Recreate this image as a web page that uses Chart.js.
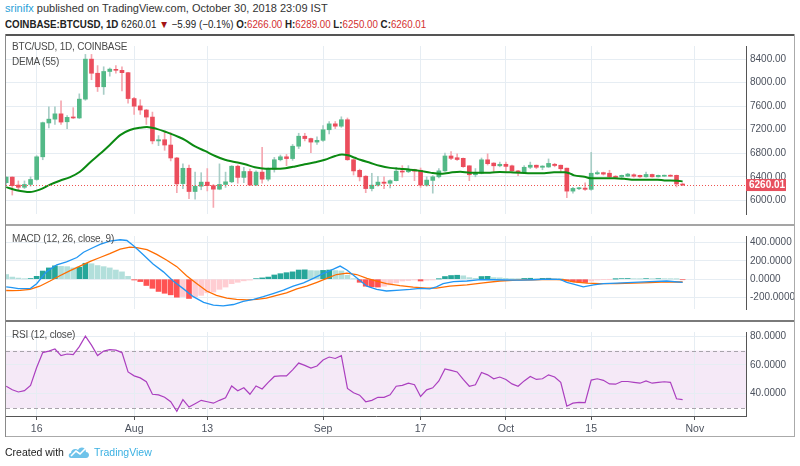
<!DOCTYPE html>
<html>
<head>
<meta charset="utf-8">
<script src="https://cdn.jsdelivr.net/npm/chart.js@4.4.0/dist/chart.umd.min.js"></script>
<style>
  body { margin: 0; width: 800px; height: 466px; background: #fff; position: relative; overflow: hidden;
         font-family: "Liberation Sans", Arial, sans-serif; color: #333; }
  .abs { position: absolute; white-space: nowrap; }
  canvas { position: absolute; left: 0; }
  .lbl { font-size: 10px; letter-spacing: -0.2px; color: #4a4a4a; line-height: 12px; }
  .red { color: #d32f2f; }
  .line { position: absolute; }
</style>
</head>
<body>

<div class="abs" style="left:5px;top:2px;font-size:11px;line-height:13px">
  <span style="color:#2a9fd8">srinifx</span> published on TradingView.com, October 30, 2018 23:09 IST
</div>
<div class="abs" style="left:5px;top:18px;font-size:10.5px;line-height:13px;color:#222;transform:scaleX(0.93);transform-origin:0 0">
  <b>COINBASE:BTCUSD, 1D</b> 6260.01 <span style="color:#a31515">&#9660;</span> &minus;5.99 (&minus;0.1%)
  <b>O:</b><span class="red">6266.00</span> <b>H:</b><span class="red">6289.00</span>
  <b>L:</b><span class="red">6250.00</span> <b>C:</b><span class="red">6260.01</span>
</div>

<canvas id="priceChart" width="800" height="188" style="top:36px"></canvas>
<canvas id="macdChart" width="800" height="93" style="top:226px"></canvas>
<canvas id="rsiChart" width="800" height="114" style="top:322px"></canvas>

<!-- frame and pane separators -->
<div class="line" style="left:5px;top:34px;width:790px;height:2px;background:#555"></div>
<div class="line" style="left:5px;top:224px;width:790px;height:2px;background:#a5a5a5"></div>
<div class="line" style="left:5px;top:320px;width:790px;height:2px;background:#7a7a7a"></div>
<div class="line" style="left:5px;top:436px;width:790px;height:1px;background:#aaa"></div>
<div class="line" style="left:5px;top:34px;width:1px;height:403px;background:#8a8a8a"></div>
<div class="line" style="left:794px;top:34px;width:1px;height:403px;background:#aaa"></div>

<div class="abs lbl" style="left:12px;top:41px">BTC/USD, 1D, COINBASE</div>
<div class="abs lbl" style="left:12px;top:56px">DEMA (55)</div>
<div class="abs lbl" style="left:12px;top:233px">MACD (12, 26, close, 9)</div>
<div class="abs lbl" style="left:12px;top:329px">RSI (12, close)</div>

<div class="abs" style="left:5px;top:446px;font-size:10.5px;line-height:13px;color:#222">Created with</div>
<svg class="abs" style="left:68px;top:444px" width="22" height="16" viewBox="0 0 22 16">
  <path d="M3 14 C0 14 0 9 3 9 C3 5 8 4 10 6 C12 2 18 3 18 8 C22 8 22 14 18 14 Z" fill="#6fc3ea"/>
  <polyline points="3,12 8,7 12,10 17,5" fill="none" stroke="#fff" stroke-width="1.6"/>
</svg>
<div class="abs" style="left:94px;top:446px;font-size:10.5px;line-height:13px;color:#3ab0e2">TradingView</div>

<script>
// Candles, Jul 11 - Oct 30 2018 (index 0 = Jul 11)
const openP = [
  6300, 6395, 6260, 6222, 6270, 6355, 6740, 7315, 7380, 7470,
  7335, 7410, 7400, 7720, 8400, 8160, 7930, 8190, 8225, 8210,
  8170, 7730, 7605, 7535, 7415, 7010, 7030, 6940, 6720, 6285,
  6545, 6150, 6240, 6310, 6250, 6190, 6270, 6315, 6580, 6390,
  6490, 6260, 6480, 6360, 6530, 6690, 6740, 6710, 6920, 7090,
  7050, 6990, 7020, 7200, 7300, 7260, 7370, 6690, 6510, 6410,
  6200, 6258, 6310, 6290, 6334, 6496, 6486, 6521, 6511, 6258,
  6339, 6400, 6501, 6754, 6724, 6714, 6587, 6435, 6461, 6689,
  6633, 6587, 6613, 6587, 6501, 6471, 6562, 6597, 6562, 6567,
  6613, 6597, 6547, 6157, 6197, 6208, 6187, 6450, 6471, 6461,
  6410, 6400, 6410, 6435, 6425, 6400, 6440, 6400, 6410, 6425,
  6425, 6266
]
const highP = [
  6400, 6400, 6330, 6330, 6400, 6760, 7330, 7590, 7590, 7690,
  7440, 7575, 7810, 8480, 8480, 8290, 8270, 8250, 8290, 8270,
  8175, 7750, 7710, 7545, 7500, 7100, 7160, 7150, 6730, 6620,
  6600, 6480, 6470, 6540, 6270, 6620, 6480, 6590, 6600, 6560,
  6530, 6500, 6900, 6550, 6730, 6770, 6780, 6950, 7140, 7140,
  7060, 7080, 7270, 7340, 7340, 7420, 7400, 6700, 6530, 6420,
  6460, 6410, 6400, 6350, 6560, 6590, 6590, 6530, 6550, 6400,
  6420, 6540, 6805, 6830, 6790, 6720, 6590, 6540, 6720, 6790,
  6640, 6650, 6650, 6600, 6510, 6590, 6650, 6600, 6590, 6704,
  6630, 6600, 6550, 6220, 6220, 6299, 6815, 6501, 6480, 6511,
  6420, 6430, 6460, 6450, 6430, 6480, 6445, 6430, 6430, 6435,
  6430, 6289
]
const lowP = [
  6270, 6090, 6160, 6200, 6240, 6340, 6690, 7230, 7290, 7290,
  7220, 7390, 7390, 7700, 8050, 7850, 7800, 8110, 8160, 7860,
  7650, 7460, 7460, 7290, 6960, 6930, 6850, 6670, 6130, 6200,
  6030, 6020, 6180, 6160, 5880, 6180, 6220, 6300, 6290, 6300,
  6250, 6250, 6290, 6330, 6480, 6670, 6590, 6680, 6880, 7010,
  6810, 6950, 7000, 7130, 7220, 7240, 6680, 6430, 6330, 6130,
  6160, 6240, 6200, 6210, 6330, 6395, 6470, 6334, 6220, 6240,
  6122, 6380, 6490, 6690, 6680, 6560, 6334, 6400, 6450, 6600,
  6490, 6570, 6490, 6490, 6420, 6460, 6540, 6540, 6520, 6560,
  6570, 6480, 6046, 6122, 6180, 6170, 6170, 6440, 6430, 6380,
  6370, 6380, 6400, 6395, 6390, 6395, 6395, 6395, 6405, 6405,
  6228, 6250
]
const closeP = [
  6395, 6250, 6222, 6270, 6355, 6740, 7320, 7380, 7470, 7330,
  7410, 7400, 7720, 8400, 8160, 7930, 8190, 8230, 8210, 8170,
  7730, 7600, 7535, 7415, 7010, 7030, 6940, 6720, 6280, 6545,
  6150, 6240, 6310, 6250, 6190, 6270, 6315, 6580, 6390, 6490,
  6260, 6480, 6360, 6530, 6690, 6740, 6710, 6920, 7090, 7050,
  6990, 7020, 7200, 7300, 7260, 7370, 6690, 6500, 6400, 6200,
  6258, 6310, 6290, 6334, 6496, 6481, 6521, 6496, 6258, 6344,
  6400, 6501, 6754, 6714, 6694, 6572, 6435, 6471, 6689, 6623,
  6587, 6613, 6577, 6501, 6471, 6562, 6597, 6562, 6582, 6628,
  6592, 6537, 6157, 6203, 6208, 6187, 6461, 6471, 6446, 6400,
  6390, 6425, 6446, 6410, 6400, 6440, 6400, 6425, 6425, 6410,
  6278, 6260.01
]

// DEMA (55): candle index, price
const demaX = [0, 1.7, 3.9, 5.5, 7.2, 8.8, 10.5, 12.1, 13.8, 15.4, 17, 18.7, 20.3, 22, 23.1, 24.7, 26.3, 28.5,
  29.3, 31, 32.6, 34.3, 35.9, 37.5, 39.2, 40.8, 42.5, 44.1, 45.8, 47.4, 49, 50.7, 52.3, 54, 55.1, 56.1, 57.2,
  58.1, 59.7, 61.3, 63, 64.6, 66.3, 67.9, 69.6, 71.2, 72.8, 74.5, 76.1, 77.8, 79.4, 81, 82.7, 84.3,
  86.1, 88.3, 89.9, 91.6, 92.4, 93.2, 94.9, 96, 97.6, 99.8, 101.4, 103.1, 105.3, 106.9, 108, 110.2, 111]
const demaY = [6225, 6172, 6142, 6182, 6268, 6334, 6395, 6486, 6648, 6790, 6942, 7109, 7195, 7235, 7246, 7215, 7159, 7068,
  7028, 6916, 6840, 6754, 6689, 6653, 6613, 6562, 6537, 6537, 6547, 6577, 6613, 6648, 6689, 6754, 6780, 6765, 6724,
  6689, 6638, 6587, 6552, 6537, 6521, 6501, 6471, 6451, 6471, 6486, 6471, 6471, 6471, 6481, 6476, 6471,
  6461, 6461, 6476, 6476, 6461, 6425, 6400, 6375, 6375, 6375, 6365, 6349, 6349, 6349, 6339, 6334, 6322]

// MACD (12, 26, close, 9)
const macdX = [0, 1, 2, 4, 5, 6.6, 8.3, 9.9, 11.6, 12.7, 14.3, 15.4, 17, 18.7, 19.8, 20.9, 22.5, 24.1, 25.8, 27.4,
  29.1, 30.7, 32.4, 34, 35.6, 37.3, 38.9, 40.6, 42.2, 43.8, 45.5, 47.1, 48.8, 50.4, 52, 53.7, 54.8, 55.9, 57.5,
  59.2, 60.8, 62.4, 64.6, 66.3, 67.9, 69.5, 70.6, 71.7, 73.4, 75.6, 77.8, 79.9, 82.1, 84.3, 86.5, 88.7, 90.9,
  92, 93.1, 94.7, 96.4, 98, 100.2, 102.9, 105.6, 108.4, 111]
const macdY = [-85, -92, -104, -100, -49, 80, 157, 189, 237, 294, 346, 380, 417, 431, 423, 366, 266, 166, 80, -20,
  -106, -191, -254, -283, -291, -277, -243, -220, -191, -157, -120, -77, -40, 9, 60, 109, 143, 100, 15,
  -77, -111, -129, -120, -111, -100, -106, -83, -49, -26, -20, -6, -6, -9, -11, -6, 0, -3,
  -34, -54, -83, -63, -49, -43, -34, -26, -20, -34]
const signalX = [0, 1, 2.3, 3.9, 5.5, 7.2, 8.8, 10.5, 12.1, 13.8, 15.4, 17, 18.7, 20.3, 21.4, 23.1, 24.7, 26.3, 28,
  29.6, 31.3, 32.9, 34.5, 36.2, 37.8, 39.5, 41.1, 42.7, 44.4, 46, 47.7, 49.3, 51, 52.6, 54.2, 55.9, 57.5, 59.2,
  60.8, 62.4, 64.6, 66.8, 69, 70.6, 72.8, 75.6, 78.3, 81, 83.8, 86.5, 89.2, 91.4, 93.1, 95.3, 97.4, 100.2,
  102.9, 105.6, 108.4, 111]
const signalY = [-124, -126, -123, -111, -77, -20, 37, 94, 143, 194, 237, 280, 329, 351, 346, 323, 271, 209, 137,
  37, -49, -129, -177, -206, -220, -226, -220, -206, -177, -149, -106, -77, -34, 9, 51, 66, 51, 9,
  -20, -49, -70, -86, -97, -97, -77, -63, -40, -20, -11, -6, -3, -6, -29, -43, -49, -49,
  -43, -37, -29, -31]
const histVals = [
  51, 23, 12, 4, 7, 31, 89, 123, 146, 140,
  137, 123, 131, 174, 169, 149, 137, 123, 100, 80,
  31, -9, -26, -69, -100, -134, -154, -171, -197, -190,
  -211, -191, -177, -149, -140, -111, -86, -49, -34, -18,
  -10, 6, 14, 23, 46, 60, 71, 80, 100, 102,
  94, 92, 96, 100, 94, 90, 43, 4, -34, -77,
  -83, -86, -77, -63, -40, -20, -15, -9, -20, -11,
  -9, 2, 29, 40, 43, 37, 17, 9, 29, 31,
  17, 15, 9, 3, 1, 8, 10, 6, 9, 10,
  6, 3, -20, -29, -34, -36, -20, -9, -3, -1,
  1, 6, 7, 4, 3, 6, 4, 5, 4, 3,
  1, -6
]

// RSI (12, close)
const rsiVals = [
  45.2, 42.7, 41.2, 42.1, 45.8, 58.2, 68.6, 69.6, 71.1, 66.5,
  67.6, 67.2, 72.7, 80.0, 73.8, 66.5, 69.6, 70.7, 70.3, 68.6,
  55.1, 52.4, 51.0, 48.3, 39.6, 39.2, 37.5, 34.4, 27.8, 35.9,
  30.7, 33.0, 35.4, 34.4, 33.4, 35.4, 37.1, 45.4, 42.1, 44.1,
  39.6, 45.4, 43.3, 47.9, 52.0, 52.4, 52.4, 56.6, 61.3, 59.7,
  57.8, 59.3, 63.4, 65.5, 64.5, 66.5, 43.7, 40.6, 39.0, 34.4,
  35.4, 37.5, 37.5, 39.2, 45.2, 45.8, 47.3, 46.2, 38.1, 42.7,
  44.1, 48.9, 57.2, 56.2, 55.1, 49.9, 45.2, 46.2, 54.7, 53.1,
  50.4, 51.6, 49.9, 46.8, 45.2, 48.9, 52.0, 49.9, 50.4, 53.1,
  51.6, 47.9, 31.3, 33.4, 34.0, 33.8, 49.5, 50.4, 49.3, 46.8,
  46.6, 48.5, 48.5, 47.9, 47.3, 48.9, 47.3, 47.9, 48.3, 47.9,
  36.5, 35.9
]
const rsiUpper = 70
const rsiLower = 30

// Axis ticks
const tickIdx = [5, 21, 33, 52, 68, 82, 96, 113]
const tickText = ["16", "Aug", "13", "Sep", "17", "Oct", "15", "Nov"]
const priceTicks = [6000, 6400, 6800, 7200, 7600, 8000, 8400]
const macdTicks = [-200, 0, 200, 400]
const rsiTicks = [40, 60, 80]

const FONT = '"Liberation Sans", Arial, sans-serif'
const gridColor = "#e6edf3"
const axisColor = "#555"
const labelColor = "#4c525e"
const upColor = "#53b987"
const downColor = "#eb4d5c"
const upWick = "#a8cdc6"
const downWick = "#f5a7b0"
const lastClose = closeP[closeP.length - 1]

function xAxis(showLabels) {
  return {
    type: "linear",
    min: -0.03,
    max: 121.4,
    offset: false,
    afterBuildTicks: (s) => { s.ticks = tickIdx.map((v) => ({ value: v })) },
    afterFit: (s) => { s.height = showLabels ? 20 : 0 },
    grid: { offset: false, color: gridColor, drawTicks: showLabels, tickLength: 4, tickColor: axisColor },
    border: { display: showLabels, color: axisColor },
    ticks: {
      display: showLabels,
      autoSkip: false,
      maxRotation: 0,
      padding: 3,
      color: labelColor,
      font: { family: FONT, size: 10.5 },
      callback: (v, i) => tickText[i],
    },
  }
}

function yAxis(min, max, ticks, fmt) {
  return {
    position: "right",
    min,
    max,
    afterBuildTicks: (s) => { s.ticks = ticks.map((v) => ({ value: v })) },
    afterFit: (s) => { s.width = 54 },
    grid: { color: gridColor, drawTicks: false },
    border: { color: axisColor },
    ticks: { padding: 4, color: labelColor, font: { family: FONT, size: 10 }, callback: fmt },
  }
}

const baseOptions = {
  responsive: false,
  animation: false,
  events: [],
  layout: { padding: { left: 6, right: 0, top: 0, bottom: 0 }, autoPadding: false },
  plugins: { legend: { display: false }, tooltip: { enabled: false } },
}

// Dotted last-price line and its red tag on the price axis
const lastPricePlugin = {
  id: "lastPrice",
  afterDatasetsDraw(chart) {
    const { ctx, chartArea } = chart
    const y = Math.round(chart.scales.y.getPixelForValue(lastClose)) + 0.5
    ctx.save()
    ctx.strokeStyle = "#ef5350"
    ctx.lineWidth = 1
    ctx.setLineDash([1, 2])
    ctx.beginPath()
    ctx.moveTo(chartArea.left, y)
    ctx.lineTo(chartArea.right, y)
    ctx.stroke()
    ctx.restore()
  },
  afterDraw(chart) {
    const { ctx, chartArea } = chart
    const y = chart.scales.y.getPixelForValue(lastClose)
    ctx.save()
    ctx.fillStyle = "#e8505e"
    ctx.fillRect(chartArea.right, y - 6, 40, 12)
    ctx.fillStyle = "#fff"
    ctx.font = "bold 10px " + FONT
    ctx.textBaseline = "middle"
    ctx.fillText(lastClose.toFixed(2), chartArea.right + 3, y + 0.5)
    ctx.restore()
  },
}

// RSI band between 70 and 30
const rsiBandPlugin = {
  id: "rsiBand",
  beforeDraw(chart) {
    const { ctx, chartArea, scales } = chart
    const yTop = scales.y.getPixelForValue(rsiUpper)
    const yBot = scales.y.getPixelForValue(rsiLower)
    ctx.save()
    ctx.fillStyle = "rgba(155, 39, 176, 0.1)"
    ctx.fillRect(chartArea.left, yTop, chartArea.right - chartArea.left, yBot - yTop)
    ctx.restore()
  },
  beforeDatasetsDraw(chart) {
    const { ctx, chartArea, scales } = chart
    ctx.save()
    ctx.strokeStyle = "#a8a3ab"
    ctx.lineWidth = 1
    ctx.setLineDash([4, 3])
    ;[rsiUpper, rsiLower].forEach((v) => {
      const y = Math.round(scales.y.getPixelForValue(v)) + 0.5
      ctx.beginPath()
      ctx.moveTo(chartArea.left, y)
      ctx.lineTo(chartArea.right, y)
      ctx.stroke()
    })
    ctx.restore()
  },
}

// Price pane
const isUp = closeP.map((c, i) => c >= openP[i])
new Chart(document.getElementById("priceChart"), {
  type: "bar",
  data: {
    datasets: [
      {
        type: "line",
        data: demaX.map((x, i) => ({ x, y: demaY[i] })),
        borderColor: "#0b8a12",
        borderWidth: 2,
        pointRadius: 0,
        cubicInterpolationMode: "monotone",
        order: 1,
      },
      {
        data: closeP.map((c, i) => ({ x: i, y: [openP[i], c] })),
        backgroundColor: isUp.map((u) => (u ? upColor : downColor)),
        barThickness: 4,
        minBarLength: 1,
        grouped: false,
        order: 2,
      },
      {
        data: closeP.map((c, i) => ({ x: i, y: [lowP[i], highP[i]] })),
        backgroundColor: isUp.map((u) => (u ? upWick : downWick)),
        barThickness: 1,
        grouped: false,
        order: 3,
      },
    ],
  },
  options: {
    ...baseOptions,
    scales: {
      x: xAxis(false),
      y: yAxis(5768, 8623, priceTicks, (v) => v.toFixed(2)),
    },
  },
  plugins: [lastPricePlugin],
})

// MACD pane
const histColors = histVals.map((v, i) => {
  const prev = i > 0 ? histVals[i - 1] : v
  if (v >= 0) return v > prev ? "#26a69a" : "#b2dfdb"
  return v < prev ? "#ff5252" : "#ffcdd2"
})
new Chart(document.getElementById("macdChart"), {
  type: "bar",
  data: {
    datasets: [
      {
        type: "line",
        data: macdX.map((x, i) => ({ x, y: macdY[i] })),
        borderColor: "#2196f3",
        borderWidth: 1.3,
        pointRadius: 0,
        order: 1,
      },
      {
        type: "line",
        data: signalX.map((x, i) => ({ x, y: signalY[i] })),
        borderColor: "#ff6d00",
        borderWidth: 1.3,
        pointRadius: 0,
        order: 2,
      },
      {
        data: histVals.map((v, i) => ({ x: i, y: v })),
        backgroundColor: histColors,
        barThickness: 5,
        grouped: false,
        order: 3,
      },
    ],
  },
  options: {
    ...baseOptions,
    scales: {
      x: xAxis(false),
      y: yAxis(-326, 472, macdTicks, (v) => v.toFixed(4)),
    },
  },
})

// RSI pane
new Chart(document.getElementById("rsiChart"), {
  type: "line",
  data: {
    datasets: [
      {
        data: rsiVals.map((v, i) => ({ x: i, y: v })),
        borderColor: "#ab3fbf",
        borderWidth: 1.2,
        pointRadius: 0,
      },
    ],
  },
  options: {
    ...baseOptions,
    scales: {
      x: xAxis(true),
      y: yAxis(24.5, 82.9, rsiTicks, (v) => v.toFixed(4)),
    },
  },
  plugins: [rsiBandPlugin],
})
</script>
</body>
</html>
